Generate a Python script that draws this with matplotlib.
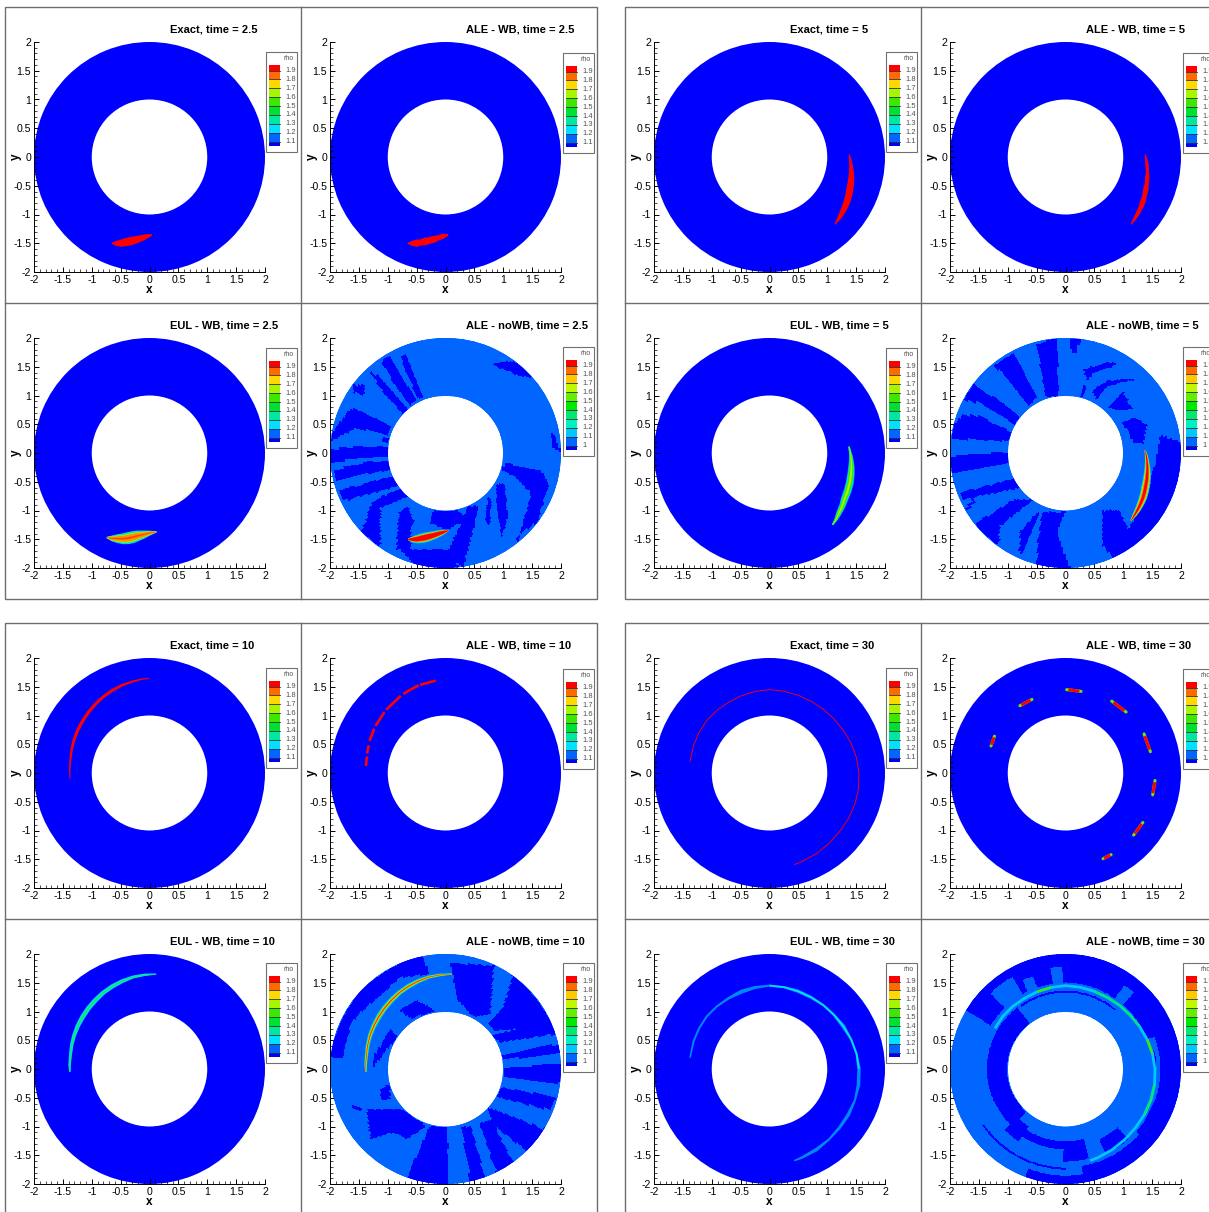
import numpy as np
import matplotlib
matplotlib.use('Agg')
import matplotlib.pyplot as plt
from matplotlib.patches import Wedge, Polygon, Rectangle
from matplotlib.colors import ListedColormap
from matplotlib.path import Path

plt.rcParams['font.family'] = ['Liberation Sans', 'DejaVu Sans']

W, H = 1209, 1212

# pixel layout of the panels
AX_LEFT = [34, 330, 654, 950]
AX_TOP = [42, 338, 658, 954]
AX_W, AX_H = 231, 230
TITLE_X = [170, 466, 790, 1086]
TITLE_Y = [29, 325, 645, 941]

TIMES = ['2.5', '5', '10', '30']
METHODS = [['Exact', 'ALE - WB'], ['EUL - WB', 'ALE - noWB']]

TICKS = [-2, -1.5, -1, -0.5, 0, 0.5, 1, 1.5, 2]
TICK_LABELS = ['-2', '-1.5', '-1', '-0.5', '0', '0.5', '1', '1.5', '2']
MINOR = np.arange(-20, 21) / 10

BLUE = '#0000ff'
LIGHT = '#0066ff'

LEVELS_WB = ['1.9', '1.8', '1.7', '1.6', '1.5', '1.4', '1.3', '1.2', '1.1']
COLORS_WB = ['#ff0000', '#ff6a00', '#ffd800', '#a8f500', '#3ce800', '#00e030',
             '#00e8a0', '#00e0ff', '#0066ff', '#0000ff']
LEVELS_NOWB = ['1.9', '1.8', '1.7', '1.6', '1.5', '1.4', '1.3', '1.2', '1.1', '1']
COLORS_NOWB = ['#ff0000', '#ff6a00', '#ffc800', '#c0f800', '#64ee00', '#00e800',
               '#00e870', '#00f0c0', '#00c8ff', '#0066ff', '#0000ff']

# legend box corners (px), time index -> row -> col
LEGEND_X = {0: (266, 563), 1: (886, 1183), 2: (266, 563), 3: (886, 1183)}
LEGEND_Y = {0: [(52, 53), (348, 347)], 1: [(52, 53), (348, 347)],
            2: [(668, 669), (963, 963)], 3: [(668, 669), (963, 963)]}

# filament centre lines: angle (deg), radius, width (px)
TH_25 = [246.6, 249, 251.6, 254, 256.6, 259, 262, 265, 268, 270, 272]
R_25 = [1.635, 1.61, 1.58, 1.545, 1.51, 1.48, 1.444, 1.41, 1.381, 1.365, 1.351]
WD_25 = [1.5, 5, 7, 8, 8.5, 8, 7, 6, 4.5, 3, 1]
WD_ALE_25 = [1.5, 5, 7.5, 6, 8, 6.5, 7, 5, 5, 3.5, 1.5]

TH_E25 = [243.3, 246.5, 249.7, 253, 256, 259, 262, 265.5, 268.8, 272, 275]
R_E25 = [1.646, 1.62, 1.588, 1.56, 1.526, 1.49, 1.454, 1.425, 1.40, 1.385, 1.376]
WD_E25 = [1.5, 6, 9, 11, 12, 12, 10.5, 8.5, 6, 3.5, 1.5]

TH_5 = [2, -2, -6, -10, -14, -18, -22, -26, -30, -34, -38, -42, -46]
R_5 = [1.38, 1.40, 1.42, 1.44, 1.46, 1.48, 1.50, 1.525, 1.55, 1.57, 1.59, 1.61, 1.63]
WD_5 = [1, 2.5, 3.5, 4.8, 5.8, 6.5, 7, 7, 6.8, 6, 5, 3.5, 1]
WD_ALE_5 = [1, 2.5, 3.5, 3, 4.5, 4, 5.5, 4.5, 5.5, 4.5, 4, 3, 1]

TH_E5 = [4.6, 1, -2, -6, -10, -15, -20.5, -26, -31.6, -36, -41.2, -45, -48.9]
R_E5 = [1.38, 1.395, 1.41, 1.425, 1.44, 1.46, 1.484, 1.505, 1.526, 1.56, 1.595, 1.63, 1.66]
WD_E5 = [1.5, 2.5, 3.5, 5, 6.5, 7.5, 8, 8, 7.5, 6.5, 5.5, 3.5, 1.5]

TH_10 = [184, 177, 170, 163, 156, 149, 142, 135, 128, 121, 114, 107, 100, 95, 90]
R_10 = [1.38, 1.385, 1.39, 1.41, 1.43, 1.45, 1.47, 1.495, 1.52, 1.55, 1.575, 1.60, 1.62, 1.635, 1.65]
WD_10 = [1, 1.5, 2, 2.5, 3, 3.2, 3.2, 3.2, 3.2, 3, 3, 2.5, 2, 1.5, 0.8]

TH_E10 = [182, 177, 170, 163, 156, 149, 142, 135, 128, 121, 114, 107, 100, 93, 86]
R_E10 = [1.38, 1.385, 1.39, 1.41, 1.43, 1.45, 1.47, 1.495, 1.52, 1.55, 1.575, 1.60, 1.625, 1.64, 1.655]
WD_E10 = [1.5, 2.5, 3, 3.5, 4, 4.5, 5, 5, 5, 4.5, 4.5, 4, 3, 2.5, 1]

TH_30 = [172, 160, 150, 140, 130, 120, 110, 100, 90, 80, 70, 60, 50, 40, 30, 20, 10, 0, -10, -20, -30, -40, -50, -60, -70, -75]
R_30 = [1.39, 1.40, 1.41, 1.42, 1.42, 1.42, 1.43, 1.44, 1.45, 1.445, 1.44, 1.44, 1.45, 1.46, 1.48, 1.505, 1.53, 1.55,
        1.565, 1.575, 1.58, 1.585, 1.60, 1.62, 1.64, 1.65]
WD_EUL_30 = [1.5, 2, 2, 2, 2, 2.5, 4, 3, 2, 2, 3.5, 3, 2, 2.5, 4, 2, 2, 3.5, 3.5, 2, 3.5, 3, 2, 3.5, 2.5, 1.5]

# ALE-WB pieces, time 10: angle and radius of both ends
ALE10_TH0 = [175, 166, 157, 146, 133, 118, 106]
ALE10_TH1 = [168, 160, 148, 135, 120, 107, 96]
ALE10_R0 = [1.385, 1.40, 1.43, 1.465, 1.505, 1.56, 1.595]
ALE10_R1 = [1.39, 1.415, 1.455, 1.495, 1.55, 1.595, 1.615]

# layers drawn from outside to inside: colour, width factor
LAYERS_RED = [('#ff0000', 1.0)]
LAYERS_EUL_25 = [('#00d8ff', 1.0), ('#00e890', 0.87), ('#a8f500', 0.72), ('#ff9000', 0.55), ('#ff4000', 0.15)]
LAYERS_EUL_5 = [('#00a0ff', 1.0), ('#00e8c0', 0.82), ('#3ce800', 0.6), ('#b0f500', 0.25)]
LAYERS_EUL_10 = [('#00a0ff', 1.0), ('#00e0ff', 0.8), ('#00e890', 0.4), ('#3ce800', 0.15)]
LAYERS_NOWB_25 = [('#00c8ff', 1.2), ('#00e870', 1.05), ('#c0f800', 0.92), ('#ff6a00', 0.8), ('#ff0000', 0.62)]
LAYERS_NOWB_5 = [('#00c8ff', 1.2), ('#00e870', 1.05), ('#c0f800', 0.9), ('#ff8000', 0.7), ('#ff0000', 0.4)]
LAYERS_NOWB_10 = [('#00c8ff', 1.1), ('#00e870', 0.85), ('#c0f800', 0.6), ('#ff8000', 0.35), ('#ff2000', 0.15)]

# ALE-WB pieces, time 30: x0, y0, x1, y1
DASH_X0 = [0.02, 0.80, 1.36, 1.55, 1.34, 0.79, -0.58, -1.23]
DASH_Y0 = [1.45, 1.25, 0.68, -0.13, -0.86, -1.42, 1.28, 0.64]
DASH_X1 = [0.27, 1.05, 1.47, 1.51, 1.18, 0.65, -0.79, -1.29]
DASH_Y1 = [1.42, 1.06, 0.37, -0.38, -1.08, -1.49, 1.17, 0.47]

# dark patches of the noWB fields (x, y)
DARK_25 = [
    [(0.77, 1.55), (1.18, 1.60), (1.53, 1.31), (1.30, 1.35), (1.0, 1.47)],
    [(-0.8, 1.7), (-0.7, 1.7), (-0.41, 0.98), (-0.5, 0.95)],
    [(-1.13, 1.63), (-0.96, 1.68), (-0.75, 1.3), (-0.5, 0.93), (-0.62, 0.82), (-0.9, 1.2)],
    [(-1.33, 1.44), (-1.19, 1.35), (-0.9, 1.05), (-0.64, 0.75), (-0.75, 0.69), (-1.05, 1.0)],
    [(-1.6, 1.18), (-1.42, 1.18), (-1.42, 1.0), (-1.6, 1.05)],
    [(-1.97, 0.34), (-1.65, 0.78), (-1.3, 0.65), (-0.93, 0.46), (-0.99, 0.31), (-1.54, 0.43), (-1.97, 0.22)],
    [(-1.1, 0.28), (-1.0, 0.25), (-1.0, 0.17), (-1.1, 0.2)],
    [(-2, 0.06), (-1.5, 0.12), (-0.99, 0.1), (-0.99, -0.06), (-1.5, -0.08), (-2, -0.18)],
    [(-1.94, -0.3), (-1.4, -0.17), (-0.96, -0.12), (-0.93, -0.3), (-1.4, -0.37), (-1.91, -0.5)],
    [(-1.83, -0.67), (-1.3, -0.5), (-0.87, -0.41), (-0.79, -0.58), (-1.3, -0.72), (-1.77, -0.84)],
    [(-1.42, -1.28), (-1.28, -0.87), (-1.0, -0.72), (-0.73, -0.61), (-0.61, -0.76), (-1.13, -0.96), (-1.13, -1.62), (-1.5, -1.4)],
    [(-0.79, -1.68), (0.08, -1.68), (0.25, -2.05), (-0.44, -2.05)],
    [(-0.84, -1.45), (-0.8, -1.05), (-0.65, -0.93), (-0.55, -1.2), (-0.6, -1.3), (-0.6, -1.68), (-0.84, -1.68)],
    [(-0.27, -1.22), (-0.2, -1.0), (0.22, -1.0), (0.37, -1.16), (0.02, -1.34)],
    [(0.08, -1.65), (0.4, -0.93), (0.57, -0.93), (0.51, -1.28), (0.31, -2), (0.1, -1.8)],
    [(0.69, -1.16), (0.75, -0.76), (0.81, -0.82), (0.77, -1.28)],
    [(0.89, -0.55), (1.03, -0.53), (1.09, -1.1), (0.98, -1.5), (0.89, -0.9)],
    [(0.98, -0.3), (1.03, -0.17), (1.65, -0.3), (1.8, -0.55), (1.6, -1.2), (1.3, -1.4), (1.5, -0.7), (1.2, -0.4)],
    [(1.8, 0.37), (1.9, 0.3), (2.0, 0.0), (1.88, 0.05)],
    [(1.22, -1.45), (1.3, -1.45), (1.26, -1.58)],
]

DARK_5 = [
    [(-0.5, 1.9), (-0.15, 2), (-0.12, 0.98), (-0.35, 0.98)],
    [(0.08, 2), (0.25, 1.97), (0.2, 1.75), (0.1, 1.75)],
    [(0.31, 1.45), (0.72, 1.6), (0.9, 1.55), (0.5, 1.4), (0.37, 1.27)],
    [(0.46, 1.09), (0.72, 1.27), (1.24, 1.3), (0.72, 1.18), (0.54, 0.92)],
    [(0.25, 0.98), (0.31, 1.18), (0.36, 1.15), (0.31, 0.98)],
    [(0.72, 0.8), (1.0, 1.06), (1.16, 0.77), (0.92, 0.75)],
    [(1.0, 0.54), (1.18, 0.63), (1.41, 0.51), (1.35, 0.17), (1.18, 0.17)],
    [(1.64, 0.31), (2.05, 0.17), (2.05, -0.5), (1.75, -1.0), (1.6, -1.4), (0.9, -1.9), (0.65, -1.6), (0.65, -1.0),
     (0.95, -1.0), (1.1, -1.35), (1.45, -0.6), (1.6, 0.0)],
    [(-0.5, -2.05), (0.1, -2.05), (-0.15, -1.4), (0, -1.03), (-0.4, -1.03), (-0.47, -1.5)],
    [(-0.8, -1.74), (-0.78, -1.39), (-0.5, -1.05), (-0.44, -1.0), (-0.5, -1.17), (-0.67, -1.57), (-0.73, -1.79)],
    [(-1.57, -1.25), (-0.9, -0.82), (-0.55, -0.82), (-1.13, -1.28), (-1.16, -1.62)],
    [(-1.74, -0.99), (-1.6, -0.82), (-1.57, -0.87), (-1.68, -0.99)],
    [(-1.83, -0.7), (-0.84, -0.44), (-0.76, -0.61), (-1.77, -0.82)],
    [(-2, -0.06), (-0.99, 0.02), (-0.96, -0.18), (-1.97, -0.35)],
    [(-1.97, 0.43), (-1.8, 0.66), (-1.48, 0.63), (-0.9, 0.34), (-0.99, 0.2), (-1.97, 0.25)],
    [(-1.76, 0.92), (-1.59, 1.21), (-0.79, 0.63), (-0.9, 0.5), (-1.48, 0.87)],
    [(-1.25, 1.53), (-0.9, 1.76), (-0.5, 0.98), (-0.64, 0.83), (-1.13, 1.41)],
]

DARK_10 = [
    [(-2.05, 0.21), (-1.88, 0.68), (-1.48, 1.43), (-0.84, 1.83), (-0.44, 2.0), (-0.27, 1.66), (-0.79, 1.6),
     (-1.37, 1.08), (-1.65, 0.8), (-1.77, 0.16)],
    [(0.08, 1.86), (0.83, 1.8), (0.77, 0.97), (0.49, 0.91), (0.2, 1.2)],
    [(1.18, 1.7), (2.05, 0.6), (1.8, 0.85), (1.53, 0.73), (0.83, 0.68), (0.72, 0.79), (1.0, 1.08)],
    [(0.8, 0.59), (1.81, 0.85), (1.93, 0.62), (0.95, 0.47)],
    [(0.98, 0.24), (1.99, 0.45), (2.05, 0.3), (1, 0.16)],
    [(1, 0.01), (2.05, 0.1), (2.05, -0.25), (1, -0.13)],
    [(0.95, -0.31), (1.93, -0.48), (1.81, -0.71), (0.89, -0.48)],
    [(0.72, -0.65), (1.76, -1.06), (1.47, -1.46), (0.86, -1.0)],
    [(0.8, -0.88), (1.24, -1.75), (0.89, -1.81), (0.6, -0.95)],
    [(0.28, -1.0), (0.45, -1), (0.7, -1.9), (0.45, -2.05)],
    [(-0.67, -1.92), (-0.27, -1), (0.02, -1.03), (0.05, -1.35), (0.05, -2.05), (-0.6, -2.05)],
    [(-1.36, -0.71), (-0.73, -0.71), (-0.32, -1), (-0.67, -1.23), (-0.9, -1.11), (-1.3, -1.23)],
    [(-1.13, -0.36), (-0.96, -0.25), (-0.96, -0.54), (-1.13, -0.54)],
    [(-1.25, 0.21), (-0.96, 0.68), (-0.84, 0.56), (-1.25, 0.04)],
    [(-1.62, -0.62), (-1.42, -0.71), (-1.5, -0.75), (-1.65, -0.68)],
    [(-0.79, 1.02), (-0.61, 0.88), (-0.18, 1.02), (-0.5, 1.2)],
]

# ring sectors of the time-30 noWB field: r0, r1, th0, th1
DARK_30 = [(1.64, 2.05, -42, 20), (1.5, 2.05, 20, 150), (1.02, 1.38, 128, 228),
           (1.2, 1.5, 225, 238), (1.25, 1.4, 238, 285), (1.4, 1.62, 268, 285),
           (1.35, 1.65, 295, 312), (1.72, 2.05, 280, 322), (1.85, 2.05, 250, 280),
           (1.54, 1.58, -8, 12), (1.70, 1.74, 215, 270), (1.30, 1.34, 215, 240),
           (1.33, 1.37, 50, 125)]
LIGHT_30 = [(1.45, 1.73, 110, 116), (1.45, 1.78, 92, 98), (1.50, 1.77, 49, 56),
            (1.5, 1.85, 120, 135)]


def to_xy(th, r):
    a = np.radians(th)
    return np.asarray(r) * np.cos(a), np.asarray(r) * np.sin(a)


def draw_filament(ax, th, r, widths, layers):
    # tapered band around the centre line, widths in px
    x, y = to_xy(th, r)
    dx, dy = np.gradient(x), np.gradient(y)
    n = np.hypot(dx, dy)
    nx, ny = -dy / n, dx / n
    px_per_unit = AX_W / 4
    for color, scale in layers:
        hw = np.asarray(widths) * scale / 2 / px_per_unit
        pts = np.column_stack([np.r_[x + nx * hw, (x - nx * hw)[::-1]],
                               np.r_[y + ny * hw, (y - ny * hw)[::-1]]])
        ax.add_patch(Polygon(pts, closed=True, fc=color, ec='none', zorder=3))


def draw_ring(ax, polys=None, dark_sectors=None, light_sectors=None):
    nowb = polys is not None or dark_sectors is not None
    ring = Wedge((0, 0), 2, 0, 360, width=1, fc=LIGHT if nowb else BLUE, ec='none', zorder=1)
    ax.add_patch(ring)
    if not nowb:
        return
    # blocky cells like the solver mesh
    r_edges = np.arange(0.98, 2.04, 0.035)
    th_edges = np.arange(0, 361, 1.35)
    rr, tt = np.meshgrid((r_edges[:-1] + r_edges[1:]) / 2, (th_edges[:-1] + th_edges[1:]) / 2, indexing='ij')
    cx, cy = to_xy(tt, rr)
    cells = np.column_stack([cx.ravel(), cy.ravel()])
    mask = np.zeros(cx.size, dtype=bool)
    for poly in polys or []:
        mask |= Path(poly + [poly[0]]).contains_points(cells)
    mask = mask.reshape(cx.shape)
    for r0, r1, t0, t1 in dark_sectors or []:
        mask |= (rr >= r0) & (rr <= r1) & ((tt - t0) % 360 <= t1 - t0)
    for r0, r1, t0, t1 in light_sectors or []:
        mask &= ~((rr >= r0) & (rr <= r1) & ((tt - t0) % 360 <= t1 - t0))
    ex, ey = to_xy(*np.meshgrid(th_edges, r_edges, indexing='xy'))
    mesh = ax.pcolormesh(ex, ey, mask.astype(int), cmap=ListedColormap([LIGHT, BLUE]), vmin=0, vmax=1,
                         shading='flat', zorder=2)
    mesh.set_clip_path(ring)


def make_axes(t, row, col):
    left = AX_LEFT[(t % 2) * 2 + col]
    top = AX_TOP[(t // 2) * 2 + row]
    ax = fig.add_axes([left / W, 1 - (top + AX_H) / H, AX_W / W, AX_H / H])
    ax.set_xlim(-2, 2)
    ax.set_ylim(-2, 2)
    ax.patch.set_visible(False)
    ax.spines['top'].set_visible(False)
    ax.spines['right'].set_visible(False)
    for s in ('left', 'bottom'):
        ax.spines[s].set_linewidth(0.7)
        ax.spines[s].set_zorder(6)
    ax.set_xticks(TICKS)
    ax.set_yticks(TICKS)
    ax.set_xticklabels(TICK_LABELS)
    ax.set_yticklabels(TICK_LABELS)
    ax.set_xticks(MINOR, minor=True)
    ax.set_yticks(MINOR, minor=True)
    ax.tick_params(which='major', direction='in', length=3.8, width=0.7, labelsize=7.6, pad=2, zorder=6)
    ax.tick_params(which='minor', direction='in', length=2.2, width=0.5, zorder=6)
    ax.set_xlabel('x', fontsize=8.5, fontweight='bold', labelpad=-0.5)
    ax.set_ylabel('y', fontsize=8.5, fontweight='bold', labelpad=-6)
    return ax


def draw_legend(x0, y0, levels, colors):
    n = len(levels)
    step = 8.9
    bh = 5.5 + step * (n - 1) + 4.5
    over.add_patch(Rectangle((x0, y0), 31, 13 + bh + 6, fc='white', ec='#707070', lw=0.8, zorder=1))
    top = y0 + 13
    edges = [top] + [top + 5.5 + i * step for i in range(n)] + [top + bh]
    for i, c in enumerate(colors):
        over.add_patch(Rectangle((x0 + 2.5, edges[i]), 11, edges[i + 1] - edges[i], fc=c, ec='none', zorder=2))
    for i, lab in enumerate(levels):
        y = top + 5.5 + i * step
        over.plot([x0 + 2.5, x0 + 13.5], [y, y], color='#303030', lw=0.6, zorder=3)
        over.text(x0 + 19, y, lab, fontsize=5.4, color='#505050', ha='left', va='center', zorder=3)
    over.text(x0 + 28, y0 + 6.5, 'rho', fontsize=5, color='#505050', ha='right', va='center', zorder=3)


def draw_marks(ax, t, name):
    if t == 0:
        if name == 'Exact':
            draw_filament(ax, TH_25, R_25, WD_25, LAYERS_RED)
        elif name == 'ALE - WB':
            draw_filament(ax, TH_25, R_25, WD_ALE_25, LAYERS_RED)
        elif name == 'EUL - WB':
            draw_filament(ax, TH_E25, R_E25, WD_E25, LAYERS_EUL_25)
        else:
            draw_filament(ax, TH_25, R_25, WD_25, LAYERS_NOWB_25)
    elif t == 1:
        if name == 'Exact':
            draw_filament(ax, TH_5, R_5, WD_5, LAYERS_RED)
        elif name == 'ALE - WB':
            draw_filament(ax, TH_5, R_5, WD_ALE_5, LAYERS_RED)
        elif name == 'EUL - WB':
            draw_filament(ax, TH_E5, R_E5, WD_E5, LAYERS_EUL_5)
        else:
            draw_filament(ax, TH_5, R_5, WD_5, LAYERS_NOWB_5)
    elif t == 2:
        if name == 'Exact':
            draw_filament(ax, TH_10, R_10, WD_10, LAYERS_RED)
        elif name == 'ALE - WB':
            for a0, a1, r0, r1 in zip(ALE10_TH0, ALE10_TH1, ALE10_R0, ALE10_R1):
                x, y = to_xy([a0, a1], [r0, r1])
                ax.plot(x, y, color='#ff0000', lw=1.9, solid_capstyle='butt', zorder=3)
        elif name == 'EUL - WB':
            draw_filament(ax, TH_E10, R_E10, WD_E10, LAYERS_EUL_10)
        else:
            draw_filament(ax, TH_E10, R_E10, WD_E10, LAYERS_NOWB_10)
    else:
        n = len(TH_30)
        if name == 'Exact':
            draw_filament(ax, TH_30, R_30, [0.9] * n, LAYERS_RED)
        elif name == 'EUL - WB':
            draw_filament(ax, TH_30, R_30, WD_EUL_30, [('#0088ff', 1.0)])
            draw_filament(ax, TH_30[8:18], R_30[8:18], [1.8] * 10, [('#00e0ff', 1.0)])
        elif name == 'ALE - noWB':
            draw_filament(ax, TH_30[2:], R_30[2:], [2.8] * (n - 2), [('#00c8ff', 1.0)])
            draw_filament(ax, TH_30[6:8], R_30[6:8], [2.2] * 2, [('#3ce800', 1.0)])
            draw_filament(ax, TH_30[10:15], R_30[10:15], [2.2] * 5, [('#00e870', 1.0)])
            draw_filament(ax, TH_30[15:17], R_30[15:17], [2.5] * 2, [('#3ce800', 1.0)])
            draw_filament(ax, TH_30[18:21], R_30[18:21], [2.5] * 3, [('#00e870', 1.0)])
        else:
            for x0, y0, x1, y1 in zip(DASH_X0, DASH_Y0, DASH_X1, DASH_Y1):
                ax.plot([x0, x1], [y0, y1], color='#60ee00', lw=2.2, solid_capstyle='round', zorder=3)
                xs = [x0 + 0.12 * (x1 - x0), x0 + 0.88 * (x1 - x0)]
                ys = [y0 + 0.12 * (y1 - y0), y0 + 0.88 * (y1 - y0)]
                ax.plot(xs, ys, color='#ff0000', lw=2.2, solid_capstyle='butt', zorder=4)


fig = plt.figure(figsize=(W / 100, H / 100), dpi=100)

# frames and legends live on one pixel-space overlay
over = fig.add_axes([0, 0, 1, 1], zorder=10)
over.set_xlim(0, W)
over.set_ylim(H, 0)
over.axis('off')
over.patch.set_visible(False)

FRAME = '#6e6e6e'
for x0, x1 in ((4.5, 597), (624.5, 1300)):
    for y0, y1 in ((6.5, 598.5), (622.5, 1300)):
        xm = x0 + 296
        ym = y0 + 296
        over.add_patch(Rectangle((x0, y0), x1 - x0, y1 - y0, fc='none', ec=FRAME, lw=1))
        over.plot([xm, xm], [y0, y1], color=FRAME, lw=1)
        over.plot([x0, x1], [ym, ym], color=FRAME, lw=1)

for t in range(4):
    for row in range(2):
        for col in range(2):
            ax = make_axes(t, row, col)
            name = METHODS[row][col]
            if name == 'ALE - noWB':
                if t < 3:
                    draw_ring(ax, [DARK_25, DARK_5, DARK_10][t])
                else:
                    draw_ring(ax, None, DARK_30, LIGHT_30)
            else:
                draw_ring(ax)
            draw_marks(ax, t, name)

            tx = TITLE_X[(t % 2) * 2 + col]
            ty = TITLE_Y[(t // 2) * 2 + row]
            over.text(tx, ty, f'{name}, time = {TIMES[t]}', fontsize=8.0, fontweight='bold', ha='left', va='center')

            levels, colors = (LEVELS_NOWB, COLORS_NOWB) if name == 'ALE - noWB' else (LEVELS_WB, COLORS_WB)
            draw_legend(LEGEND_X[t][col], LEGEND_Y[t][row][col], levels, colors)

fig.savefig('out.png', dpi=100)
